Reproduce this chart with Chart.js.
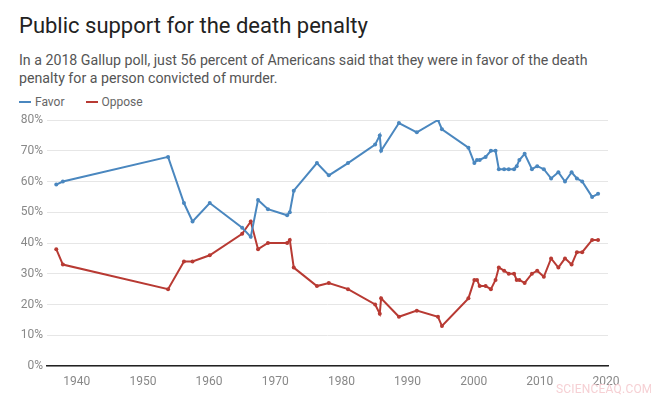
<!DOCTYPE html>
<html>
<head>
<meta charset="utf-8">
<script src="https://cdn.jsdelivr.net/npm/chart.js@4"></script>
<style>
  body { margin: 0; background: #fff; font-family: Roboto, "Noto Sans", sans-serif; }
  #wrap { position: relative; width: 651px; height: 397px; overflow: hidden; }
  h1 { position: absolute; left: 19px; top: 13px; margin: 0; font-size: 22px; font-weight: 400; color: #222; }
  #sub { position: absolute; left: 19px; top: 51px; width: 585px; margin: 0; font-size: 14.2px; line-height: 18px; color: #555; }
  #legend { position: absolute; left: 19px; top: 95px; font-size: 12px; color: #666; }
  #legend span { display: inline-block; margin-right: 21px; }
  #legend i { display: inline-block; width: 12px; height: 2px; vertical-align: middle; margin-right: 4px; position: relative; top: -1px; }
  #chartBox { position: absolute; left: 0; top: 105px; width: 651px; height: 292px; }
  #mark { position: absolute; left: 556px; top: 382px; font-size: 12px; color: #f6d0d4; letter-spacing: 0.2px; }
</style>
</head>
<body>
<div id="wrap">
  <h1>Public support for the death penalty</h1>
  <p id="sub">In a 2018 Gallup poll, just 56 percent of Americans said that they were in favor of the death penalty for a person convicted of murder.</p>
  <div id="legend">
    <span><i style="background:#4a87bf"></i>Favor</span><span><i style="background:#b83a33"></i>Oppose</span>
  </div>
  <div id="chartBox"><canvas id="chart"></canvas></div>
  <div id="mark">SCIENCEAQ.COM</div>
</div>
<script>
// poll dates (decimal years) and percentages
const years = [1936.9, 1937.9, 1953.8, 1956.2, 1957.5, 1960.1, 1965.0, 1966.3, 1967.4, 1968.9,
  1971.8, 1972.2, 1972.8, 1976.3, 1978.1, 1981.0, 1985.1, 1985.8, 1986.0, 1988.7,
  1991.4, 1994.6, 1995.2, 1999.2, 2000.1, 2000.5, 2000.9, 2001.8, 2002.6, 2003.3,
  2003.8, 2004.6, 2005.3, 2006.1, 2006.5, 2006.9, 2007.7, 2008.8, 2009.6, 2010.6,
  2011.7, 2012.8, 2013.8, 2014.8, 2015.6, 2016.4, 2017.9, 2018.8];
const favor = [59, 60, 68, 53, 47, 53, 45, 42, 54, 51,
  49, 50, 57, 66, 62, 66, 72, 75, 70, 79,
  76, 80, 77, 71, 66, 67, 67, 68, 70, 70,
  64, 64, 64, 64, 65, 67, 69, 64, 65, 64,
  61, 63, 60, 63, 61, 60, 55, 56];
const oppose = [38, 33, 25, 34, 34, 36, 43, 47, 38, 40,
  40, 41, 32, 26, 27, 25, 20, 17, 22, 16,
  18, 16, 13, 22, 28, 28, 26, 26, 25, 28,
  32, 31, 30, 30, 28, 28, 27, 30, 31, 29,
  35, 32, 35, 33, 37, 37, 41, 41];
const xTicks = [1940, 1950, 1960, 1970, 1980, 1990, 2000, 2010, 2020];
const yTicks = [0, 10, 20, 30, 40, 50, 60, 70, 80];

const toPoints = vals => vals.map((v, i) => ({ x: years[i], y: v }));

function series(label, vals, color) {
  return {
    label: label,
    data: toPoints(vals),
    borderColor: color,
    backgroundColor: color,
    borderWidth: 2,
    pointRadius: 2,
    pointHoverRadius: 2,
    pointBorderWidth: 0,
    tension: 0
  };
}

new Chart(document.getElementById('chart'), {
  type: 'line',
  data: {
    datasets: [
      series('Favor', favor, '#4a87bf'),
      series('Oppose', oppose, '#b83a33')
    ]
  },
  options: {
    responsive: true,
    maintainAspectRatio: false,
    animation: false,
    layout: { padding: { top: 15, right: 43, left: 0, bottom: 0 } },
    plugins: { legend: { display: false }, tooltip: { enabled: false } },
    scales: {
      x: {
        type: 'linear',
        min: 1935.5,
        max: 2020.3,
        afterBuildTicks: s => { s.ticks = xTicks.map(v => ({ value: v })); },
        afterFit: s => { s.height = 31; },
        grid: { display: false },
        border: { display: true, color: '#222', width: 1.5 },
        ticks: { color: '#888', font: { family: 'Roboto', size: 12 }, padding: 1, maxRotation: 0, callback: v => String(v) }
      },
      y: {
        min: 0,
        max: 80,
        afterBuildTicks: s => { s.ticks = yTicks.map(v => ({ value: v })); },
        afterFit: s => { s.width = 47; },
        grid: { color: '#e6e6e6', lineWidth: 1, drawTicks: false },
        border: { display: false },
        ticks: { color: '#888', font: { family: 'Roboto', size: 12 }, padding: 4, callback: v => v + '%' }
      }
    }
  }
});
</script>
</body>
</html>
